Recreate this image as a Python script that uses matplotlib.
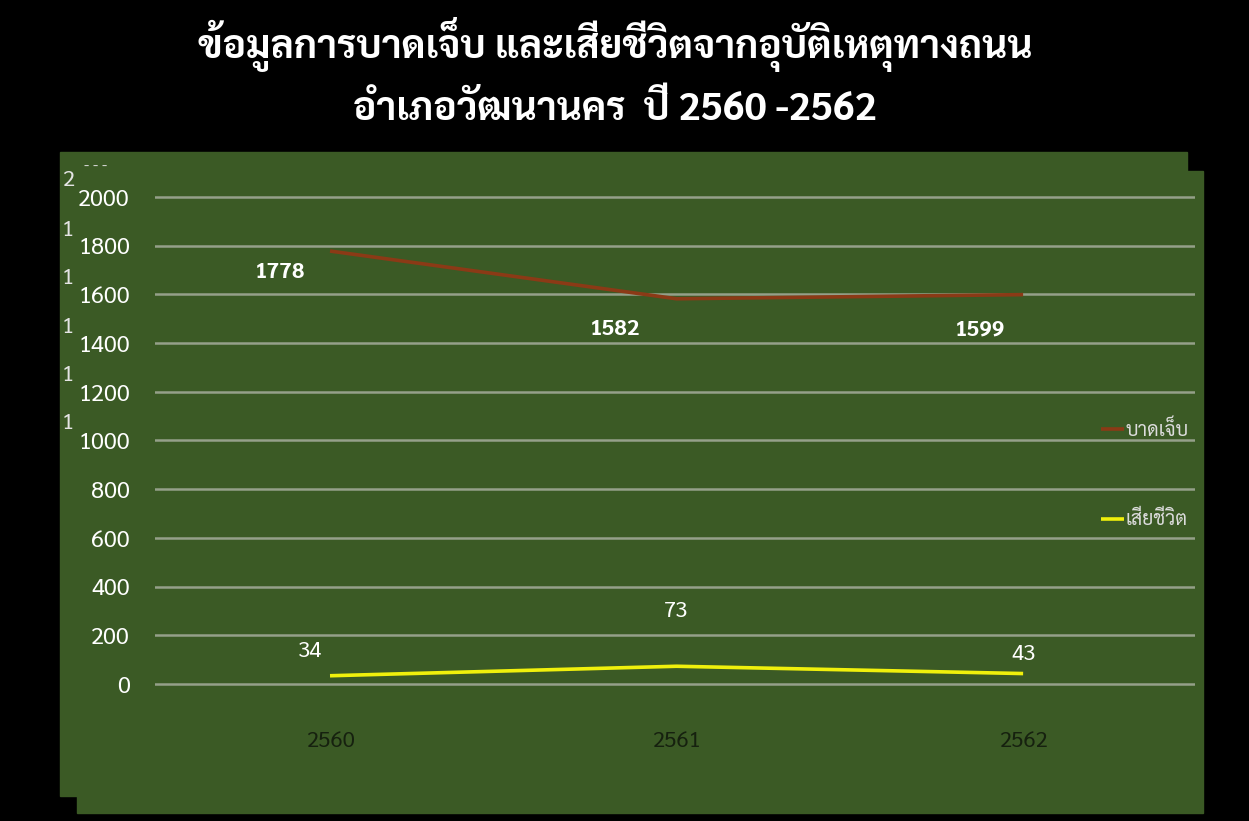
import matplotlib
matplotlib.use('Agg')
import matplotlib.pyplot as plt
from matplotlib.patches import Rectangle

# data
years = ['2560', '2561', '2562']
injured = [1778, 1582, 1599]
deaths = [34, 73, 43]
yticks = [0, 200, 400, 600, 800, 1000, 1200, 1400, 1600, 1800, 2000]

title1 = 'ข้อมูลการบาดเจ็บ และเสียชีวิตจากอุบัติเหตุทางถนน'
title2 = 'อำเภอวัฒนานคร  ปี 2560 -2562'

plt.rcParams['font.family'] = ['Sarabun', 'Noto Sans Thai', 'IBM Plex Sans Thai', 'DejaVu Sans']

W, H = 1249, 821
green = '#3b5a25'

fig = plt.figure(figsize=(W / 100, H / 100), dpi=100, facecolor='black')

# two overlapping green panels (slightly offset, as in the slide)
fig.patches.append(Rectangle((60 / W, 1 - 796 / H), 1127 / W, 644 / H,
                             transform=fig.transFigure, color=green, zorder=-2))
fig.patches.append(Rectangle((77 / W, 1 - 813 / H), 1126 / W, 642 / H,
                             transform=fig.transFigure, color=green, zorder=-2))

ax = fig.add_axes([155 / W, 1 - 688.9 / H, 1040 / W, 496.8 / H])
ax.set_facecolor('none')
x = range(len(years))
ax.plot(x, injured, color='#8b3a16', lw=2.6, label='บาดเจ็บ', solid_capstyle='butt')
ax.plot(x, deaths, color='#f0f00c', lw=2.6, label='เสียชีวิต', solid_capstyle='butt')

ax.set_xlim(-0.505, 2.496)
ax.set_ylim(-20, 2020)
ax.set_yticks(yticks)
ax.set_xticks(list(x))
ax.set_xticklabels(years)
ax.grid(axis='y', color='#95a08a', lw=1.8)
ax.set_axisbelow(True)
for s in ax.spines.values():
    s.set_visible(False)
ax.tick_params(axis='y', length=0, pad=18, labelsize=17, labelcolor='white')
ax.tick_params(axis='x', length=0, pad=30, labelsize=16, labelcolor='#16210f')

# data labels
inj_off = [(-50, -21), (-62, -31), (-43, -35)]
dth_off = [(-20, 24), (0, 55), (0, 19)]
for i, v in enumerate(injured):
    ax.annotate(str(v), (i, v), xytext=inj_off[i], textcoords='offset pixels',
                ha='center', va='center', color='white', fontsize=16, fontweight='bold')
for i, v in enumerate(deaths):
    ax.annotate(str(v), (i, v), xytext=dth_off[i], textcoords='offset pixels',
                ha='center', va='center', color='white', fontsize=16)

leg = ax.legend(loc='upper left', bbox_to_anchor=(1083 / W, 1 - 402 / H),
                bbox_transform=fig.transFigure, frameon=False, fontsize=14,
                labelspacing=3.6, handlelength=1.2, handletextpad=0.1,
                labelcolor='#dcdcdc')

# stray labels peeking out on the left edge of the slide
fig.text(68 / W, 1 - 180 / H, '2', color='#e4e4e4', fontsize=16, ha='center', va='center')
fig.text(96 / W, 1 - 166 / H, '- - -', color='#dcdcdc', fontsize=11, ha='center', va='center')
for yy in [230, 278, 327, 375, 423]:
    fig.text(68 / W, 1 - yy / H, '1', color='#e4e4e4', fontsize=16, ha='center', va='center')

fig.text(615 / W, 1 - 45 / H, title1, color='white', fontsize=28, fontweight='bold',
         ha='center', va='center')
fig.text(615 / W, 1 - 110 / H, title2, color='white', fontsize=28, fontweight='bold',
         ha='center', va='center')

fig.savefig('out.png', dpi=100, facecolor='black')
